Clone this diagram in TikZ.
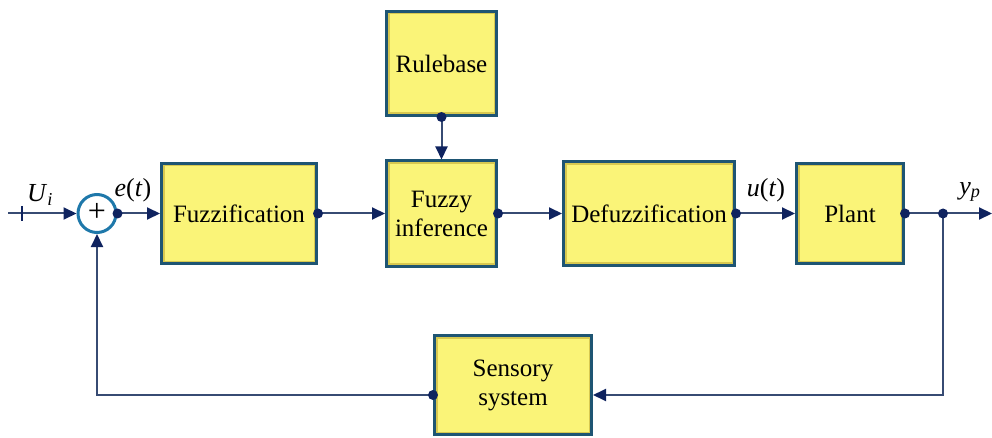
\documentclass[tikz,border=0pt]{standalone}
\usepackage{fontspec}
\setmainfont{Liberation Serif}
\usetikzlibrary{arrows.meta,calc}
\definecolor{boxfill}{RGB}{250,244,120}
\definecolor{boxrim}{RGB}{215,200,80}
\definecolor{boxedge}{RGB}{30,85,115}
\definecolor{linec}{RGB}{55,75,115}
\definecolor{navy}{RGB}{15,35,95}
\definecolor{circedge}{RGB}{30,120,170}
\tikzset{
  blockbox/.style={draw=boxedge, line width=3pt, fill=boxfill, align=center,
    inner sep=2pt, font=\fontsize{25}{29}\selectfont,
    path picture={\draw[boxrim, line width=6pt]
      (path picture bounding box.south west) rectangle (path picture bounding box.north east);}},
  conn/.style={draw=linec, line width=2pt},
  arr/.style={conn, -{Triangle[length=13pt,width=12pt,fill=navy,color=navy]}},
  dotp/.style={circle, fill=navy, inner sep=0pt, minimum size=10pt},
  sumc/.style={circle, draw=circedge, line width=3pt, fill=white, minimum size=38pt, inner sep=0pt, font=\fontsize{32}{32}\selectfont},
  lbl/.style={font=\fontsize{26}{29}\selectfont, inner sep=0pt}
}
\begin{document}
\begin{tikzpicture}[x=1pt,y=-1pt]
\useasboundingbox (0,0) rectangle (992,438);
\node[blockbox, minimum width=110pt, minimum height=104pt] (rule) at (441.5,63.5) {Rulebase};
\node[blockbox, minimum width=110pt, minimum height=105pt] (fuzzy) at (441.5,213.5) {Fuzzy\\inference};
\node[blockbox, minimum width=155pt, minimum height=100pt] (fuzz) at (239,213.5) {Fuzzification};
\node[blockbox, minimum width=171pt, minimum height=103pt] (defuzz) at (649,213.5) {Defuzzification};
\node[blockbox, minimum width=107pt, minimum height=100pt] (plant) at (850,213.5) {Plant};
\node[blockbox, minimum width=157pt, minimum height=99pt] (sens) at (513,385) {Sensory\\system};
\node[sumc] (sum) at (97,213.5) {\raisebox{1.5pt}{+}};
\coordinate (in) at (8,213.5);
\coordinate (br) at (943,213.5);
\coordinate (out) at (992,213.5);
\coordinate (fbr) at (943,395);
\coordinate (fbl) at (97,395);
% connectors
\draw[arr] (in) -- (sum.west);
\draw[conn, navy] (22,206) -- (22,221);
\draw[arr] (sum.east) -- (fuzz.west);
\draw[arr] (fuzz.east) -- (fuzzy.west);
\draw[arr] (rule.south) -- (fuzzy.north);
\draw[arr] (fuzzy.east) -- (defuzz.west);
\draw[arr] (defuzz.east) -- (plant.west);
\draw[arr] (plant.east) -- (out);
\draw[arr] (br) -- (fbr) -- (sens.east |- fbr);
\draw[arr] (sens.west |- fbl) -- (fbl) -- (sum.south);
% dots
\node[dotp] (d1) at (sum.east) {};
\node[dotp] (d2) at (fuzz.east) {};
\node[dotp] (d3) at (fuzzy.east) {};
\node[dotp] (d4) at (rule.south) {};
\node[dotp] (d5) at (defuzz.east) {};
\node[dotp] (d6) at (plant.east) {};
\node[dotp] (d7) at (br) {};
\node[dotp] (d8) at (sens.west |- fbl) {};
% labels
\node[lbl] (lu) at (40,195) {\textit{U}\textsubscript{\textit{i}}};
\node[lbl] (le) at (133,190) {\textit{e}(\textit{t})};
\node[lbl] (lut) at (766,190) {\textit{u}(\textit{t})};
\node[lbl] (ly) at (970,192) {\textit{y}\textsubscript{\textit{p}}};
\end{tikzpicture}
\end{document}
